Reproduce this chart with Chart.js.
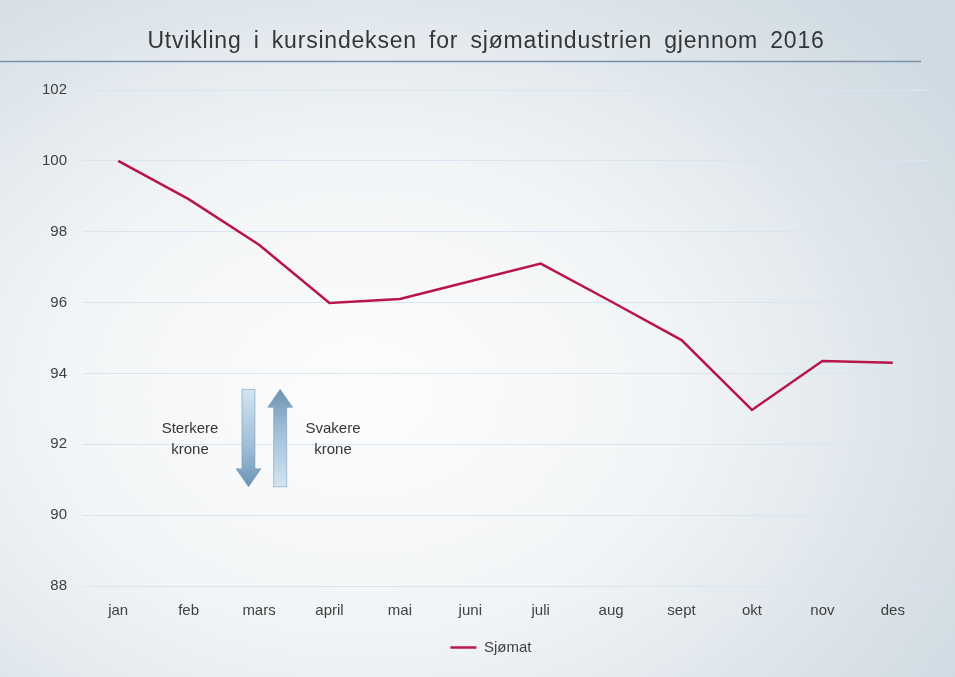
<!DOCTYPE html>
<html>
<head>
<meta charset="utf-8">
<script src="https://cdn.jsdelivr.net/npm/chart.js@4/dist/chart.umd.min.js"></script>
<style>
  html, body { margin: 0; padding: 0; }
  body {
    width: 955px; height: 677px; overflow: hidden;
    background: radial-gradient(ellipse 75% 80% at 38% 58%, #fdfdfd 0%, #f1f4f6 45%, #dbe3e9 80%, #cfdae2 100%);
  }
  #wrap { position: relative; width: 955px; height: 677px; }
</style>
</head>
<body>
<div id="wrap"><canvas id="myChart" width="955" height="677"></canvas></div>
<script>
// Data
const months = ['jan', 'feb', 'mars', 'april', 'mai', 'juni', 'juli', 'aug', 'sept', 'okt', 'nov', 'des'];
const sjomat = [100.0, 98.92, 97.63, 95.99, 96.1, 96.6, 97.1, 96.03, 94.94, 92.97, 94.35, 94.3];
const yTicks = [88, 90, 92, 94, 96, 98, 100, 102];

const titleText = 'Utvikling i kursindeksen for sjømatindustrien gjennom 2016';
const fontFamily = '"Liberation Sans", Arial, sans-serif';

// title with underline, plus the two arrows with their labels
const decorPlugin = {
    id: 'decor',
    beforeDraw(chart) {
        const ctx = chart.ctx;
        ctx.save();
        ctx.fillStyle = '#363636';
        ctx.font = '23px ' + fontFamily;
        ctx.letterSpacing = '0.8px';
        ctx.wordSpacing = '5px';
        ctx.textAlign = 'center';
        ctx.textBaseline = 'alphabetic';
        ctx.fillText(titleText, 486, 48);
        ctx.restore();

        ctx.save();
        ctx.strokeStyle = '#7890a9';
        ctx.lineWidth = 1.5;
        ctx.beginPath();
        ctx.moveTo(0, 61.5);
        ctx.lineTo(921, 61.5);
        ctx.stroke();
        ctx.restore();
    },
    afterDatasetsDraw(chart) {
        const ctx = chart.ctx;
        const x = chart.scales.x, y = chart.scales.y;
        const top = y.getPixelForValue(93.55);
        const bottom = y.getPixelForValue(90.8);
        const headLen = 18, shaft = 6.5, head = 12.5;

        // down arrow (sterkere krone)
        let cx = x.getPixelForValue(1.85);
        let g = ctx.createLinearGradient(0, top, 0, bottom);
        g.addColorStop(0, '#d3e4f1');
        g.addColorStop(0.6, '#9dbdd6');
        g.addColorStop(1, '#6d93b1');
        ctx.save();
        ctx.fillStyle = g;
        ctx.strokeStyle = 'rgba(110,145,175,0.5)';
        ctx.lineWidth = 1;
        ctx.beginPath();
        ctx.moveTo(cx - shaft, top);
        ctx.lineTo(cx + shaft, top);
        ctx.lineTo(cx + shaft, bottom - headLen);
        ctx.lineTo(cx + head, bottom - headLen);
        ctx.lineTo(cx, bottom);
        ctx.lineTo(cx - head, bottom - headLen);
        ctx.lineTo(cx - shaft, bottom - headLen);
        ctx.closePath();
        ctx.fill();
        ctx.stroke();

        // up arrow (svakere krone)
        cx = x.getPixelForValue(2.3);
        g = ctx.createLinearGradient(0, top, 0, bottom);
        g.addColorStop(0, '#6d93b1');
        g.addColorStop(0.4, '#9dbdd6');
        g.addColorStop(1, '#d3e4f1');
        ctx.fillStyle = g;
        ctx.beginPath();
        ctx.moveTo(cx, top);
        ctx.lineTo(cx + head, top + headLen);
        ctx.lineTo(cx + shaft, top + headLen);
        ctx.lineTo(cx + shaft, bottom);
        ctx.lineTo(cx - shaft, bottom);
        ctx.lineTo(cx - shaft, top + headLen);
        ctx.lineTo(cx - head, top + headLen);
        ctx.closePath();
        ctx.fill();
        ctx.stroke();

        ctx.fillStyle = '#363636';
        ctx.font = '15px ' + fontFamily;
        ctx.textAlign = 'center';
        ctx.textBaseline = 'middle';
        const ty = y.getPixelForValue(92.43);
        let lx = x.getPixelForValue(1.02);
        ctx.fillText('Sterkere', lx, ty);
        ctx.fillText('krone', lx, ty + 21);
        lx = x.getPixelForValue(3.05);
        ctx.fillText('Svakere', lx, ty);
        ctx.fillText('krone', lx, ty + 21);
        ctx.restore();
    }
};

const ctx = document.getElementById('myChart').getContext('2d');
new Chart(ctx, {
    type: 'line',
    data: {
        labels: months,
        datasets: [{
            label: 'Sjømat',
            data: sjomat,
            borderColor: '#b8164a',
            backgroundColor: '#b8164a',
            borderWidth: 2.5,
            pointRadius: 0,
            tension: 0,
            fill: false
        }]
    },
    options: {
        responsive: false,
        animation: false,
        devicePixelRatio: 1,
        layout: { padding: { left: 0, right: 27, top: 90, bottom: 12 } },
        scales: {
            x: {
                offset: true,
                grid: { display: false, drawTicks: false },
                border: { display: false },
                ticks: { color: '#404040', font: { family: fontFamily, size: 15 }, padding: 16, maxRotation: 0 },
                afterFit(scale) { scale.height = 44; }
            },
            y: {
                min: 88,
                max: 102,
                afterBuildTicks(scale) { scale.ticks = yTicks.map(v => ({ value: v })); },
                grid: { color: '#d9e5f0', lineWidth: 1, drawTicks: false },
                border: { display: false },
                ticks: { color: '#404040', font: { family: fontFamily, size: 15 }, padding: 16 },
                afterFit(scale) { scale.width = 83; }
            }
        },
        plugins: {
            title: { display: false },
            legend: {
                position: 'bottom',
                fullSize: false,
                labels: {
                    usePointStyle: true,
                    pointStyle: 'line',
                    pointStyleWidth: 26,
                    color: '#404040',
                    font: { family: fontFamily, size: 15 },
                    generateLabels(chart) {
                        const items = Chart.defaults.plugins.legend.labels.generateLabels(chart);
                        // trailing spaces nudge the centred item left, as in the original
                        items.forEach(it => { it.text = it.text + '\u00a0'.repeat(7); });
                        return items;
                    }
                }
            },
            tooltip: { enabled: false }
        }
    },
    plugins: [decorPlugin]
});
</script>
</body>
</html>
